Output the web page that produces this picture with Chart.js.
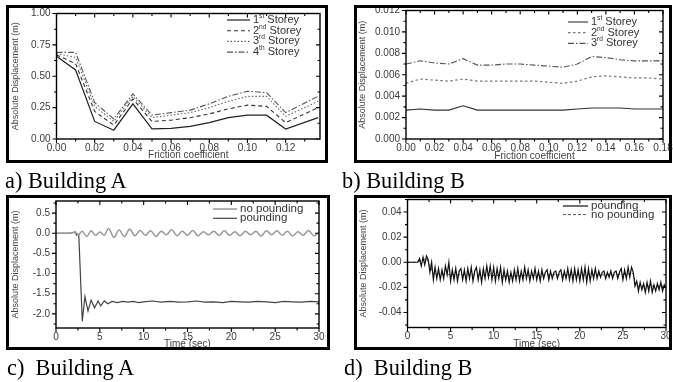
<!DOCTYPE html>
<html><head><meta charset="utf-8">
<script src="https://cdn.jsdelivr.net/npm/chart.js@4.4.0/dist/chart.umd.min.js"></script>
<style>
html,body{margin:0;padding:0;background:#fff;width:673px;height:382px;overflow:hidden;position:relative;}
canvas{position:absolute;left:0;top:0;}
.frame{position:absolute;border:3px solid #000;box-sizing:border-box;pointer-events:none;}
.cap{position:absolute;font-family:'Liberation Serif','Times New Roman',serif;font-size:24px;line-height:24px;white-space:pre;transform:scaleX(0.93);transform-origin:0 0;color:#000;}
</style></head><body>
<canvas id="ca" width="673" height="382"></canvas>
<canvas id="cb" width="673" height="382"></canvas>
<canvas id="cc" width="673" height="382"></canvas>
<canvas id="cd" width="673" height="382"></canvas>
<div class="frame" style="left:6px;top:5px;width:322px;height:158px"></div>
<div class="frame" style="left:354px;top:5px;width:318px;height:158px"></div>
<div class="frame" style="left:6px;top:195px;width:324px;height:155px"></div>
<div class="frame" style="left:354px;top:195px;width:318px;height:155px"></div>
<div class="cap" style="left:5px;top:168px">a) Building A</div>
<div class="cap" style="left:342px;top:168px">b) Building B</div>
<div class="cap" style="left:7px;top:355px">c)  Building A</div>
<div class="cap" style="left:344px;top:355px">d)  Building B</div>
<script>
// ---------- data ----------
const frictionA = [0,0.01,0.02,0.03,0.04,0.05,0.06,0.07,0.08,0.09,0.10,0.11,0.12,0.137];
const storey1A = [0.66,0.55,0.14,0.07,0.28,0.08,0.085,0.10,0.13,0.17,0.19,0.19,0.08,0.17];
const storey2A = [0.67,0.60,0.22,0.11,0.32,0.14,0.15,0.17,0.20,0.24,0.27,0.26,0.13,0.25];
const storey3A = [0.68,0.65,0.26,0.14,0.34,0.17,0.19,0.21,0.25,0.30,0.34,0.34,0.18,0.30];
const storey4A = [0.69,0.69,0.29,0.16,0.36,0.19,0.21,0.23,0.28,0.34,0.38,0.37,0.21,0.34];
const storeyLabelsA = ['1st Storey','2nd Storey','3rd Storey','4th Storey'];
const ticksFrictionA = [0,0.02,0.04,0.06,0.08,0.10,0.12];
const ticksDispA = [0,0.25,0.5,0.75,1.0];

const frictionB = [0,0.01,0.02,0.03,0.04,0.05,0.06,0.07,0.08,0.09,0.10,0.11,0.12,0.13,0.14,0.15,0.16,0.17,0.18];
const storey1B = [0.0027,0.0028,0.0027,0.0027,0.0031,0.0027,0.0027,0.0027,0.0027,0.0027,0.0027,0.0027,0.0028,0.0029,0.0029,0.0029,0.0028,0.0028,0.0028];
const storey2B = [0.0052,0.0056,0.0055,0.0054,0.0056,0.0054,0.0054,0.0054,0.0054,0.0054,0.0053,0.0052,0.0054,0.0058,0.0059,0.0058,0.0057,0.0057,0.0056];
const storey3B = [0.0070,0.0073,0.0071,0.0070,0.0075,0.0069,0.0069,0.0070,0.0070,0.0069,0.0068,0.0067,0.0070,0.0077,0.0076,0.0074,0.0073,0.0073,0.0073];
const storeyLabelsB = ['1st Storey','2nd Storey','3rd Storey'];
const ticksFrictionB = [0,0.02,0.04,0.06,0.08,0.10,0.12,0.14,0.16,0.18];
const ticksDispB = [0,0.002,0.004,0.006,0.008,0.010,0.012];

const ticksTime = [0,5,10,15,20,25,30];
const ticksDispC = [-2.0,-1.5,-1.0,-0.5,0.0,0.5];
const ticksDispD = [-0.04,-0.02,0,0.02,0.04];

const timeNoPoundC = [0,1.5,2.0,2.3,2.6,3.0,3.5,4.0,4.5,5.0,5.5,6.0,6.6,7.2,7.8,8.4,9.0,9.6,10.2,10.8,11.4,12.0,12.6,13.2,13.8,14.4,15.0,15.6,16.2,16.8,17.4,18.0,18.6,19.2,19.8,20.4,21.0,21.6,22.2,22.8,23.4,24.0,24.6,25.2,25.8,26.4,27.0,27.6,28.2,28.8,29.4,30.0];
const dispNoPoundC = [0,0,0.02,0,-0.03,0.05,-0.08,0.06,-0.05,0.03,-0.05,0.12,-0.10,0.08,-0.08,0.10,-0.06,0.07,-0.05,0.06,-0.08,0.05,-0.04,0.09,-0.06,0.05,-0.05,0.07,-0.06,0.04,-0.04,0.05,-0.05,0.06,-0.05,0.04,-0.06,0.05,-0.04,0.05,-0.07,0.06,-0.04,0.06,-0.05,0.05,-0.07,0.04,-0.05,0.07,-0.06,0.02];
const timePoundC = [0,1.5,2.0,2.2,2.35,2.5,2.6,3.0,3.3,3.65,4.0,4.4,4.8,5.1,5.5,5.9,6.4,7.0,7.6,8.2,8.8,9.4,10,11,12,13,14,15,16,17,18,19,20,21,22,23,24,25,26,27,28,29,30];
const dispPoundC = [0,0,0.02,0.03,-0.05,-0.02,-0.05,-2.18,-1.57,-1.93,-1.66,-1.85,-1.68,-1.80,-1.68,-1.75,-1.69,-1.72,-1.69,-1.71,-1.69,-1.72,-1.70,-1.68,-1.71,-1.69,-1.71,-1.70,-1.68,-1.71,-1.70,-1.72,-1.69,-1.70,-1.71,-1.69,-1.70,-1.72,-1.69,-1.70,-1.71,-1.69,-1.70];

const timePoundD = [0,0.2,0.4,0.6,0.8,1,1.2,1.4,1.6,1.8,2,2.2,2.4,2.6,2.8,3,3.2,3.4,3.6,3.8,4,4.2,4.4,4.6,4.8,5,5.2,5.4,5.6,5.8,6,6.2,6.4,6.6,6.8,7,7.2,7.4,7.6,7.8,8,8.2,8.4,8.6,8.8,9,9.2,9.4,9.6,9.8,10,10.2,10.4,10.6,10.8,11,11.2,11.4,11.6,11.8,12,12.2,12.4,12.6,12.8,13,13.2,13.4,13.6,13.8,14,14.2,14.4,14.6,14.8,15,15.2,15.4,15.6,15.8,16,16.2,16.4,16.6,16.8,17,17.2,17.4,17.6,17.8,18,18.2,18.4,18.6,18.8,19,19.2,19.4,19.6,19.8,20,20.2,20.4,20.6,20.8,21,21.2,21.4,21.6,21.8,22,22.2,22.4,22.6,22.8,23,23.2,23.4,23.6,23.8,24,24.2,24.4,24.6,24.8,25,25.2,25.4,25.6,25.8,26,26.2,26.4,26.6,26.8,27,27.2,27.4,27.6,27.8,28,28.2,28.4,28.6,28.8,29,29.2,29.4,29.6,29.8,30];
const dispPoundD = [0,0,0,0,0,0,0,0.003,-0.003,0.004,
 -0.002,0.005,0.002,-0.008,0.000,-0.014,-0.004,-0.013,-0.005,-0.014,
 -0.006,-0.013,-0.003,-0.010,0.000,-0.015,-0.006,-0.014,-0.005,-0.015,
 -0.007,-0.005,-0.014,-0.006,-0.015,-0.005,-0.013,-0.004,-0.015,-0.007,
 -0.004,-0.014,-0.006,-0.016,-0.005,-0.013,-0.003,-0.012,-0.003,-0.014,
 -0.004,-0.015,-0.005,-0.013,-0.004,-0.016,-0.006,-0.014,-0.007,-0.016,
 -0.008,-0.015,-0.006,-0.014,-0.005,-0.015,-0.007,-0.014,-0.004,-0.013,
 -0.006,-0.015,-0.007,-0.013,-0.005,-0.014,-0.007,-0.015,-0.006,-0.013,
 -0.008,-0.006,-0.014,-0.007,-0.013,-0.008,-0.007,-0.013,-0.008,-0.006,
 -0.014,-0.007,-0.013,-0.005,-0.014,-0.006,-0.015,-0.005,-0.014,-0.006,
 -0.015,-0.005,-0.014,-0.004,-0.016,-0.005,-0.015,-0.006,-0.013,-0.005,
 -0.013,-0.007,-0.012,-0.008,-0.007,-0.013,-0.008,-0.012,-0.007,-0.013,
 -0.008,-0.007,-0.013,-0.008,-0.005,-0.014,-0.006,-0.013,-0.004,-0.012,
 -0.004,-0.008,-0.019,-0.015,-0.023,-0.016,-0.022,-0.017,-0.024,-0.016,
 -0.023,-0.015,-0.024,-0.018,-0.023,-0.017,-0.022,-0.016,-0.023,-0.018,
 -0.021];
const timeNoPoundD = [0,1,1.5,2.2,3,5,8,12,16,20,24,26.2,26.5,30];
const dispNoPoundD = [0,0,0.001,0.003,-0.009,-0.010,-0.010,-0.011,-0.010,-0.010,-0.010,-0.009,-0.019,-0.019];

// ---------- helpers ----------
const FAM = "'Liberation Sans', Arial, sans-serif";
Chart.defaults.font.family = FAM;
Chart.defaults.color = '#3a3a3a';
Chart.defaults.animation = false;

function pts(xs, ys){ return xs.map((x,i)=>({x:x, y:ys[i]})); }

function makeBox(xStep, yStep){
  return { id:'boxTicks', afterDraw(chart){
    const {ctx, chartArea:a} = chart; const x = chart.scales.x, y = chart.scales.y;
    ctx.save();
    ctx.strokeStyle = '#000'; ctx.lineWidth = 1.4; ctx.setLineDash([]);
    ctx.strokeRect(a.left, a.top, a.right - a.left, a.bottom - a.top);
    ctx.lineWidth = 1.1;
    const vals = (sc, step) => { const out=[]; const h=step/2; const k0=Math.ceil(sc.min/h - 1e-6); for(let k=k0; k*h <= sc.max + h*1e-6; k++){ out.push({v:k*h, major: Math.abs(k)%2===0}); } return out; };
    ctx.beginPath();
    vals(x, xStep).forEach(t => { const p = x.getPixelForValue(t.v); const L = t.major ? 4 : 2.5;
      ctx.moveTo(p, a.bottom); ctx.lineTo(p, a.bottom + L);
      ctx.moveTo(p, a.top); ctx.lineTo(p, a.top + L); });
    vals(y, yStep).forEach(t => { const p = y.getPixelForValue(t.v); const L = t.major ? 4 : 2.5;
      ctx.moveTo(a.left - L, p); ctx.lineTo(a.left, p);
      ctx.moveTo(a.right - L, p); ctx.lineTo(a.right, p); });
    ctx.stroke();
    ctx.restore();
  }};
}

function makeLegend(cfg){
  return { id:'legendIn', afterDraw(chart){
    const ctx = chart.ctx; ctx.save();
    cfg.order.forEach((di, r) => {
      const ds = chart.data.datasets[di]; const yy = cfg.y + r*cfg.row;
      ctx.strokeStyle = ds.borderColor; ctx.lineWidth = ds.borderWidth; ctx.setLineDash(ds.borderDash || []);
      ctx.beginPath(); ctx.moveTo(cfg.x, yy); ctx.lineTo(cfg.x + cfg.len, yy); ctx.stroke();
      ctx.setLineDash([]);
      let tx = cfg.x + cfg.len + cfg.gap;
      ctx.fillStyle = '#333'; ctx.textBaseline = 'middle'; ctx.textAlign = 'left';
      ctx.font = cfg.size + 'px ' + FAM;
      const m = /^(\d+)(st|nd|rd|th)(.*)$/.exec(ds.label);
      if (m) {
        ctx.fillText(m[1], tx, yy); tx += ctx.measureText(m[1]).width;
        ctx.font = (cfg.size*0.6) + 'px ' + FAM;
        ctx.fillText(m[2], tx, yy - cfg.size*0.35); tx += ctx.measureText(m[2]).width;
        ctx.font = cfg.size + 'px ' + FAM;
        ctx.fillText(m[3], tx, yy);
      } else { ctx.fillText(ds.label, tx, yy); }
    });
    ctx.restore();
  }};
}

function axis(o){
  return {
    type:'linear', min:o.min, max:o.max,
    grid:{display:false, drawTicks:false}, border:{display:false},
    ticks:{stepSize:o.step, autoSkip:false, maxRotation:0, padding:o.pad, font:{size:10}, color:'#3a3a3a',
      callback: v => Number(v).toFixed(o.dec)},
    title:{display:true, text:o.title, font:{size:o.tsize}, color:'#444', padding:0},
    afterBuildTicks: s => { s.ticks = o.ticks.map(v => ({value:v})); },
    afterFit: s => { if (o.w !== undefined) s.width = o.w; if (o.h !== undefined) s.height = o.h; s.paddingLeft=0; s.paddingRight=0; s.paddingTop=0; s.paddingBottom=0; }
  };
}

function make(id, L, T, R, B, W, H, datasets, xo, yo, legend){
  xo.h = H; yo.w = W;
  return new Chart(document.getElementById(id), {
    type:'line',
    data:{datasets:datasets},
    options:{
      responsive:false, animation:false,
      layout:{padding:{left:L-W, top:T, right:673-R, bottom:382-B-H}},
      elements:{point:{radius:0}, line:{tension:0}},
      plugins:{legend:{display:false}, tooltip:{enabled:false}},
      scales:{ x: axis(xo), y: axis(yo) }
    },
    plugins:[makeBox(xo.step, yo.step), makeLegend(legend)]
  });
}

// ---------- panel a ----------
make('ca', 56.5, 13.5, 320, 139, 46.4, 22, [
  {label:storeyLabelsA[0], data:pts(frictionA, storey1A), borderColor:'#222', borderWidth:1.2},
  {label:storeyLabelsA[1], data:pts(frictionA, storey2A), borderColor:'#333', borderWidth:1.1, borderDash:[4,3]},
  {label:storeyLabelsA[2], data:pts(frictionA, storey3A), borderColor:'#666', borderWidth:1.1, borderDash:[1.5,2]},
  {label:storeyLabelsA[3], data:pts(frictionA, storey4A), borderColor:'#555', borderWidth:1.1, borderDash:[6,2,1.5,2]}
], {min:0, max:0.138, step:0.02, dec:2, pad:3, title:'Friction coefficient', tsize:10, ticks:ticksFrictionA},
   {min:0, max:1, step:0.25, dec:2, pad:6, title:'Absolute Displacement (m)', tsize:9, ticks:ticksDispA},
   {x:227, y:20, len:23, gap:3, row:10.7, size:11, order:[0,1,2,3]});

// ---------- panel b ----------
make('cb', 406, 10.5, 663, 139, 48.4, 23, [
  {label:storeyLabelsB[0], data:pts(frictionB, storey1B), borderColor:'#333', borderWidth:1.1},
  {label:storeyLabelsB[1], data:pts(frictionB, storey2B), borderColor:'#777', borderWidth:1.2, borderDash:[2.5,2.5]},
  {label:storeyLabelsB[2], data:pts(frictionB, storey3B), borderColor:'#555', borderWidth:1.1, borderDash:[6,2,1.5,2]}
], {min:0, max:0.18, step:0.02, dec:2, pad:3, title:'Friction coefficient', tsize:10, ticks:ticksFrictionB},
   {min:0, max:0.012, step:0.002, dec:3, pad:6, title:'Absolute Displacement (m)', tsize:9, ticks:ticksDispB},
   {x:568, y:22, len:20, gap:3, row:10.7, size:11, order:[0,1,2]});

// ---------- panel c ----------
make('cc', 56, 201, 319, 328, 45.4, 22, [
  {label:'no pounding', data:pts(timeNoPoundC, dispNoPoundC), borderColor:'#9a9a9a', borderWidth:1.5, tension:0.4},
  {label:'pounding', data:pts(timePoundC, dispPoundC), borderColor:'#444', borderWidth:1.2}
], {min:0, max:30, step:5, dec:0, pad:3, title:'Time (sec)', tsize:10, ticks:ticksTime},
   {min:-2.35, max:0.8, step:0.5, dec:1, pad:6, title:'Absolute Displacement (m)', tsize:9, ticks:ticksDispC},
   {x:213, y:209, len:24, gap:3, row:9.3, size:11.5, order:[0,1]});

// ---------- panel d ----------
make('cd', 407.5, 199.5, 666, 327.5, 48.9, 22.5, [
  {label:'pounding', data:pts(timePoundD, dispPoundD), borderColor:'#111', borderWidth:1.2},
  {label:'no pounding', data:pts(timeNoPoundD, dispNoPoundD), borderColor:'#555', borderWidth:1, borderDash:[3,2]}
], {min:0, max:30, step:5, dec:0, pad:3, title:'Time (sec)', tsize:10, ticks:ticksTime},
   {min:-0.052, max:0.05, step:0.02, dec:2, pad:6, title:'Absolute Displacement (m)', tsize:9, ticks:ticksDispD},
   {x:563, y:206, len:25, gap:3, row:8.6, size:11.5, order:[0,1]});
</script>
</body></html>
